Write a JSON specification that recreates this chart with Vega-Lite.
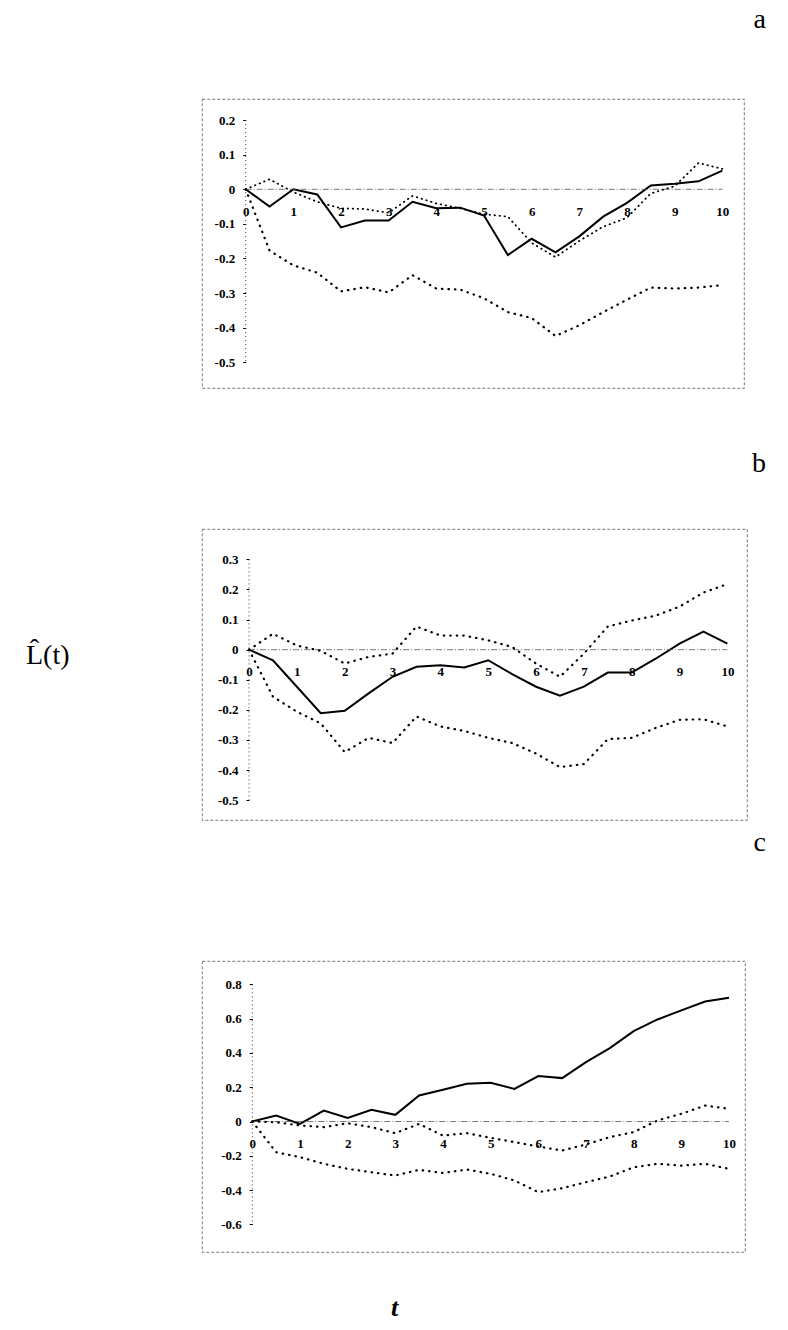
{
  "$schema": "https://vega.github.io/schema/vega-lite/v6.json",
  "padding": {"left": 25, "top": 5, "right": 0, "bottom": 0},
  "spacing": 141,
  "bounds": "flush",
  "config": {
    "view": {"stroke": "#555", "strokeWidth": 0.8, "strokeDash": [3, 2]},
    "font": "Liberation Serif",
    "title": {"font": "Liberation Serif", "fontSize": 28, "fontWeight": "normal", "color": "#000", "anchor": "end", "frame": "group", "baseline": "alphabetic"}
  },
  "datasets": {
    "a": [
      {"t": 0, "L": 0, "hi": 0, "lo": 0},
      {"t": 0.5, "L": -0.05, "hi": 0.029, "lo": -0.177},
      {"t": 1, "L": 0.0, "hi": -0.008, "lo": -0.22},
      {"t": 1.5, "L": -0.015, "hi": -0.036, "lo": -0.241},
      {"t": 2, "L": -0.11, "hi": -0.055, "lo": -0.295},
      {"t": 2.5, "L": -0.09, "hi": -0.057, "lo": -0.283},
      {"t": 3, "L": -0.09, "hi": -0.068, "lo": -0.298},
      {"t": 3.5, "L": -0.036, "hi": -0.019, "lo": -0.248},
      {"t": 4, "L": -0.055, "hi": -0.041, "lo": -0.287},
      {"t": 4.5, "L": -0.053, "hi": -0.055, "lo": -0.29},
      {"t": 5, "L": -0.076, "hi": -0.072, "lo": -0.315},
      {"t": 5.5, "L": -0.19, "hi": -0.079, "lo": -0.355},
      {"t": 6, "L": -0.143, "hi": -0.155, "lo": -0.372},
      {"t": 6.5, "L": -0.182, "hi": -0.196, "lo": -0.424},
      {"t": 7, "L": -0.136, "hi": -0.149, "lo": -0.393},
      {"t": 7.5, "L": -0.079, "hi": -0.108, "lo": -0.355},
      {"t": 8, "L": -0.039, "hi": -0.082, "lo": -0.319},
      {"t": 8.5, "L": 0.011, "hi": -0.012, "lo": -0.284},
      {"t": 9, "L": 0.016, "hi": 0.009, "lo": -0.287},
      {"t": 9.5, "L": 0.023, "hi": 0.076, "lo": -0.284},
      {"t": 10, "L": 0.054, "hi": 0.059, "lo": -0.277}
    ],
    "b": [
      {"t": 0, "L": 0, "hi": 0, "lo": 0},
      {"t": 0.5, "L": -0.035, "hi": 0.053, "lo": -0.156},
      {"t": 1, "L": -0.123, "hi": 0.014, "lo": -0.206},
      {"t": 1.5, "L": -0.211, "hi": -0.004, "lo": -0.245},
      {"t": 2, "L": -0.203, "hi": -0.046, "lo": -0.34},
      {"t": 2.5, "L": -0.145, "hi": -0.024, "lo": -0.293},
      {"t": 3, "L": -0.09, "hi": -0.013, "lo": -0.31},
      {"t": 3.5, "L": -0.057, "hi": 0.077, "lo": -0.222},
      {"t": 4, "L": -0.052, "hi": 0.047, "lo": -0.255},
      {"t": 4.5, "L": -0.059, "hi": 0.047, "lo": -0.27},
      {"t": 5, "L": -0.035, "hi": 0.031, "lo": -0.293},
      {"t": 5.5, "L": -0.081, "hi": 0.009, "lo": -0.31},
      {"t": 6, "L": -0.123, "hi": -0.046, "lo": -0.345},
      {"t": 6.5, "L": -0.153, "hi": -0.09, "lo": -0.39},
      {"t": 7, "L": -0.123, "hi": -0.013, "lo": -0.38},
      {"t": 7.5, "L": -0.076, "hi": 0.077, "lo": -0.297},
      {"t": 8, "L": -0.076, "hi": 0.097, "lo": -0.293},
      {"t": 8.5, "L": -0.03, "hi": 0.113, "lo": -0.26},
      {"t": 9, "L": 0.02, "hi": 0.143, "lo": -0.233},
      {"t": 9.5, "L": 0.06, "hi": 0.19, "lo": -0.231},
      {"t": 10, "L": 0.02, "hi": 0.218, "lo": -0.255}
    ],
    "c": [
      {"t": 0, "L": 0, "hi": 0, "lo": 0},
      {"t": 0.5, "L": 0.035, "hi": -0.004, "lo": -0.179},
      {"t": 1, "L": -0.014, "hi": -0.023, "lo": -0.208},
      {"t": 1.5, "L": 0.064, "hi": -0.033, "lo": -0.247},
      {"t": 2, "L": 0.021, "hi": -0.01, "lo": -0.276},
      {"t": 2.5, "L": 0.068, "hi": -0.033, "lo": -0.296},
      {"t": 3, "L": 0.039, "hi": -0.068, "lo": -0.315},
      {"t": 3.5, "L": 0.152, "hi": -0.014, "lo": -0.282},
      {"t": 4, "L": 0.185, "hi": -0.082, "lo": -0.3},
      {"t": 4.5, "L": 0.22, "hi": -0.068, "lo": -0.28},
      {"t": 5, "L": 0.226, "hi": -0.095, "lo": -0.305},
      {"t": 5.5, "L": 0.19, "hi": -0.12, "lo": -0.344},
      {"t": 6, "L": 0.265, "hi": -0.146, "lo": -0.412},
      {"t": 6.5, "L": 0.253, "hi": -0.169, "lo": -0.389},
      {"t": 7, "L": 0.346, "hi": -0.134, "lo": -0.354},
      {"t": 7.5, "L": 0.428, "hi": -0.091, "lo": -0.321},
      {"t": 8, "L": 0.527, "hi": -0.062, "lo": -0.267},
      {"t": 8.5, "L": 0.595, "hi": 0.006, "lo": -0.247},
      {"t": 9, "L": 0.648, "hi": 0.045, "lo": -0.257},
      {"t": 9.5, "L": 0.7, "hi": 0.093, "lo": -0.247},
      {"t": 10, "L": 0.722, "hi": 0.074, "lo": -0.276}
    ]
  },
  "vconcat": [
    {
      "width": 542, "height": 289,
      "title": {"text": "a", "offset": 65, "dx": 22},
      "data": {"name": "a"},
      "layer": [
        {
          "mark": {"type": "line", "color": "#000", "strokeWidth": 2},
          "encoding": {
            "x": {"field": "t", "type": "quantitative",
              "scale": {"domain": [-0.917, 10.455], "nice": false, "zero": false},
              "axis": {"orient": "bottom", "offset": -198.7, "values": [0,1,2,3,4,5,6,7,8,9,10], "tickCount": 30, "domain": false, "ticks": false, "grid": false, "labelPadding": 16, "labelFont": "Liberation Serif", "labelFontWeight": "bold", "labelFontSize": 13, "labelColor": "#000", "labelOverlap": false, "labelFlush": false, "labelExpr": "'' + datum.value", "title": null}},
            "y": {"field": "L", "type": "quantitative",
              "scale": {"domain": [-0.5743, 0.261], "nice": false, "zero": false},
              "axis": {"orient": "left", "offset": -43.7, "values": [0.2,0.1,0,-0.1,-0.2,-0.3,-0.4,-0.5], "tickCount": 30, "domain": false, "grid": false, "tickSize": 3, "tickColor": "#000", "labelPadding": 8, "labelFont": "Liberation Serif", "labelFontWeight": "bold", "labelFontSize": 13, "labelColor": "#000", "labelOverlap": false, "labelFlush": false, "labelExpr": "'' + datum.value", "title": null}}
          }
        },
        {
          "data": {"values": [{}]},
          "mark": {"type": "rule", "color": "#555", "strokeWidth": 0.8, "strokeDash": [6, 2, 1, 2]},
          "encoding": {
            "x": {"datum": 0, "type": "quantitative"},
            "x2": {"datum": 10},
            "y": {"datum": 0, "type": "quantitative"}
          }
        },
        {
          "data": {"values": [{}]},
          "mark": {"type": "rule", "color": "#333", "strokeWidth": 1, "strokeDash": [1, 3]},
          "encoding": {
            "x": {"datum": 0, "type": "quantitative"},
            "y": {"datum": 0.2, "type": "quantitative"},
            "y2": {"datum": -0.5}
          }
        },
        {
          "mark": {"type": "line", "color": "#000", "strokeWidth": 2.2, "strokeDash": [0.5, 6], "strokeCap": "round"},
          "encoding": {
            "x": {"field": "t", "type": "quantitative"},
            "y": {"field": "lo", "type": "quantitative"}
          }
        },
        {
          "mark": {"type": "line", "color": "#000", "strokeWidth": 1.8, "strokeDash": [0.5, 4.5], "strokeCap": "round"},
          "encoding": {
            "x": {"field": "t", "type": "quantitative"},
            "y": {"field": "hi", "type": "quantitative"}
          }
        }
      ]
    },
    {
      "width": 545, "height": 291,
      "title": {"text": "b", "offset": 51, "dx": 19},
      "data": {"name": "b"},
      "layer": [
        {
          "mark": {"type": "line", "color": "#000", "strokeWidth": 2},
          "encoding": {
            "x": {"field": "t", "type": "quantitative",
              "scale": {"domain": [-0.983, 10.41], "nice": false, "zero": false},
              "axis": {"orient": "bottom", "offset": -170.3, "values": [0,1,2,3,4,5,6,7,8,9,10], "tickCount": 30, "domain": false, "ticks": false, "grid": false, "labelPadding": 16, "labelFont": "Liberation Serif", "labelFontWeight": "bold", "labelFontSize": 13, "labelColor": "#000", "labelOverlap": false, "labelFlush": false, "labelExpr": "'' + datum.value", "title": null}},
            "y": {"field": "L", "type": "quantitative",
              "scale": {"domain": [-0.5658, 0.401], "nice": false, "zero": false},
              "axis": {"orient": "left", "offset": -47, "values": [0.3,0.2,0.1,0,-0.1,-0.2,-0.3,-0.4,-0.5], "tickCount": 30, "domain": false, "grid": false, "tickSize": 3, "tickColor": "#000", "labelPadding": 8, "labelFont": "Liberation Serif", "labelFontWeight": "bold", "labelFontSize": 13, "labelColor": "#000", "labelOverlap": false, "labelFlush": false, "labelExpr": "'' + datum.value",
                "title": "L\u0302(t)", "titleAngle": 0, "titleAlign": "right", "titleBaseline": "middle", "titleX": -180, "titleY": 126, "titleFont": "Liberation Serif", "titleFontSize": 28, "titleFontWeight": "normal", "titleColor": "#000"}}
          }
        },
        {
          "data": {"values": [{}]},
          "mark": {"type": "rule", "color": "#555", "strokeWidth": 0.8, "strokeDash": [6, 2, 1, 2]},
          "encoding": {
            "x": {"datum": 0, "type": "quantitative"},
            "x2": {"datum": 10},
            "y": {"datum": 0, "type": "quantitative"}
          }
        },
        {
          "data": {"values": [{}]},
          "mark": {"type": "rule", "color": "#333", "strokeWidth": 1, "strokeDash": [1, 3]},
          "encoding": {
            "x": {"datum": 0, "type": "quantitative"},
            "y": {"datum": 0.3, "type": "quantitative"},
            "y2": {"datum": -0.5}
          }
        },
        {
          "mark": {"type": "line", "color": "#000", "strokeWidth": 2.2, "strokeDash": [0.5, 6], "strokeCap": "round"},
          "encoding": {
            "x": {"field": "t", "type": "quantitative"},
            "y": {"field": "lo", "type": "quantitative"}
          }
        },
        {
          "mark": {"type": "line", "color": "#000", "strokeWidth": 2.2, "strokeDash": [0.5, 6], "strokeCap": "round"},
          "encoding": {
            "x": {"field": "t", "type": "quantitative"},
            "y": {"field": "hi", "type": "quantitative"}
          }
        }
      ]
    },
    {
      "width": 543, "height": 291,
      "title": {"text": "c", "offset": 104, "dx": 21},
      "data": {"name": "c"},
      "layer": [
        {
          "mark": {"type": "line", "color": "#000", "strokeWidth": 2},
          "encoding": {
            "x": {"field": "t", "type": "quantitative",
              "scale": {"domain": [-1.055, 10.336], "nice": false, "zero": false},
              "axis": {"orient": "bottom", "offset": -130.5, "values": [0,1,2,3,4,5,6,7,8,9,10], "tickCount": 30, "domain": false, "ticks": false, "grid": false, "labelPadding": 16, "labelFont": "Liberation Serif", "labelFontWeight": "bold", "labelFontSize": 13, "labelColor": "#000", "labelOverlap": false, "labelFlush": false, "labelExpr": "'' + datum.value",
                "title": "t", "titleAngle": 0, "titleAlign": "center", "titleBaseline": "middle", "titleX": 192, "titleY": 185.5, "titleFont": "Liberation Serif", "titleFontSize": 26, "titleFontStyle": "italic", "titleFontWeight": "bold", "titleColor": "#000"}},
            "y": {"field": "L", "type": "quantitative",
              "scale": {"domain": [-0.761, 0.936], "nice": false, "zero": false},
              "axis": {"orient": "left", "offset": -50.3, "values": [0.8,0.6,0.4,0.2,0,-0.2,-0.4,-0.6], "tickCount": 30, "domain": false, "grid": false, "tickSize": 3, "tickColor": "#000", "labelPadding": 8, "labelFont": "Liberation Serif", "labelFontWeight": "bold", "labelFontSize": 13, "labelColor": "#000", "labelOverlap": false, "labelFlush": false, "labelExpr": "'' + datum.value", "title": null}}
          }
        },
        {
          "data": {"values": [{}]},
          "mark": {"type": "rule", "color": "#555", "strokeWidth": 0.8, "strokeDash": [6, 2, 1, 2]},
          "encoding": {
            "x": {"datum": 0, "type": "quantitative"},
            "x2": {"datum": 10},
            "y": {"datum": 0, "type": "quantitative"}
          }
        },
        {
          "data": {"values": [{}]},
          "mark": {"type": "rule", "color": "#333", "strokeWidth": 1, "strokeDash": [1, 3]},
          "encoding": {
            "x": {"datum": 0, "type": "quantitative"},
            "y": {"datum": 0.8, "type": "quantitative"},
            "y2": {"datum": -0.6}
          }
        },
        {
          "mark": {"type": "line", "color": "#000", "strokeWidth": 2.2, "strokeDash": [0.5, 6], "strokeCap": "round"},
          "encoding": {
            "x": {"field": "t", "type": "quantitative"},
            "y": {"field": "lo", "type": "quantitative"}
          }
        },
        {
          "mark": {"type": "line", "color": "#000", "strokeWidth": 2.2, "strokeDash": [0.5, 6], "strokeCap": "round"},
          "encoding": {
            "x": {"field": "t", "type": "quantitative"},
            "y": {"field": "hi", "type": "quantitative"}
          }
        }
      ]
    }
  ]
}
